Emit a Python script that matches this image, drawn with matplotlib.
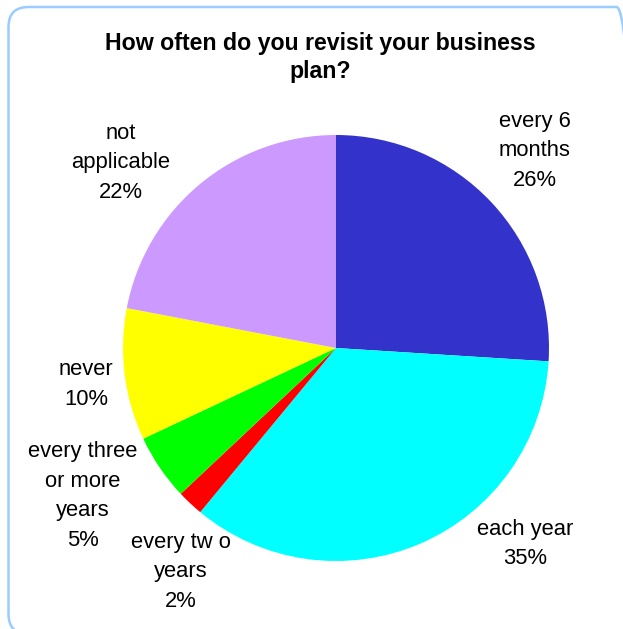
import matplotlib
matplotlib.use("Agg")
import matplotlib.pyplot as plt
from matplotlib.patches import FancyBboxPatch
from matplotlib.transforms import IdentityTransform

plt.rcParams['font.family'] = ['Liberation Sans', 'DejaVu Sans']

# Data
categories = ["every 6\nmonths", "each year", "every tw o\nyears", "every three\nor more\nyears",
              "never", "not\napplicable"]
values = [26, 35, 2, 5, 10, 22]
colors = ["#3333CC", "#00FFFF", "#FF0000", "#00FF00", "#FFFF00", "#CC99FF"]
title = "How often do you revisit your business\nplan?"

# label positions (in units of pie radius, relative to centre)
label_pos = [(0.934, 0.925), (0.887, -0.92), (-0.728, -1.05), (-1.188, -0.695),
             (-1.174, -0.172), (-1.009, 0.87)]

W, H = 623, 629
fig = plt.figure(figsize=(W / 100, H / 100), dpi=100)
fig.patch.set_facecolor("white")

cx, cy, r = 336, 348, 213
ax = fig.add_axes([(cx - r) / W, (H - cy - r) / H, 2 * r / W, 2 * r / H])
ax.pie(values, colors=colors, startangle=90, counterclock=False, radius=1,
       wedgeprops=dict(linewidth=0))
ax.set_xlim(-1, 1)
ax.set_ylim(-1, 1)
ax.set_aspect('auto')
ax.axis('off')

for cat, v, (lx, ly) in zip(categories, values, label_pos):
    ax.text(lx, ly, f"{cat}\n{v}%", ha='center', va='center', fontsize=15.8,
            linespacing=1.54, color='black', clip_on=False)

fig.text(320 / W, 1 - 57.5 / H, title, ha='center', va='center', fontsize=16.7,
         fontweight='bold', linespacing=1.3)

border = FancyBboxPatch((8.5, H - 634), 628, 627, boxstyle="round,pad=0,rounding_size=20",
                        transform=IdentityTransform(), facecolor='none',
                        edgecolor='#99CCFF', linewidth=1.8)
fig.add_artist(border)

fig.savefig("out.png", dpi=100)
